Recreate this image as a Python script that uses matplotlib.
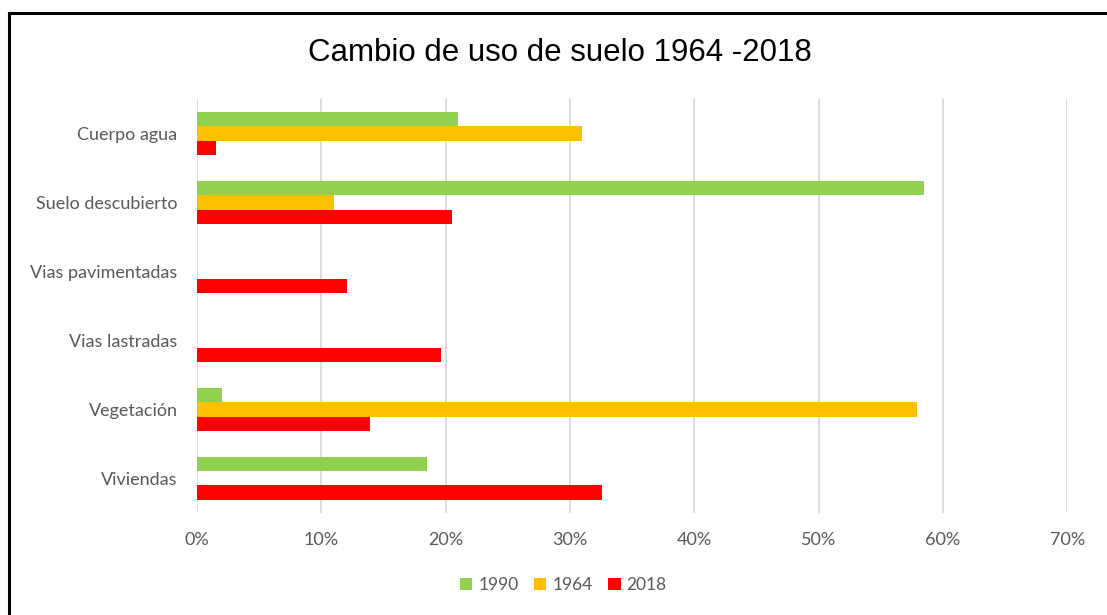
import matplotlib
matplotlib.use("Agg")
import matplotlib.pyplot as plt
import numpy as np
from matplotlib.lines import Line2D
from matplotlib.ticker import FuncFormatter, MultipleLocator

categories = ["Cuerpo agua", "Suelo descubierto", "Vias pavimentadas",
              "Vias lastradas", "Vegetación", "Viviendas"]
series_names = ["1990", "1964", "2018"]
v1990 = [21.0, 58.5, 0.0, 0.0, 2.0, 18.5]
v1964 = [31.0, 11.0, 0.0, 0.0, 57.9, 0.0]
v2018 = [1.5, 20.5, 12.1, 19.6, 13.9, 32.6]
colors = ["#92D050", "#FFC000", "#FF0000"]

fig = plt.figure(figsize=(11.07, 6.15), dpi=100)
ax = fig.add_axes([0.178, 0.166, 0.786, 0.673])

y = np.arange(len(categories))
h = 0.205
offsets = [-h, 0, h]
for vals, off, col, name in zip([v1990, v1964, v2018], offsets, colors, series_names):
    ax.barh(y + off, vals, height=h, color=col, label=name, zorder=3)

ax.set_ylim(len(categories) - 0.5, -0.5)
ax.set_xlim(0, 70)
ax.xaxis.set_major_locator(MultipleLocator(10))
ax.xaxis.set_major_formatter(FuncFormatter(lambda v, p: f"{int(round(v))}%"))
ax.set_yticks(y)
ax.set_yticklabels(categories)
ax.grid(axis="x", color="#D9D9D9", linewidth=1.3, zorder=0)
for s in ax.spines.values():
    s.set_visible(False)
ax.tick_params(axis="both", length=0, labelsize=13, colors="#595959")
ax.tick_params(axis="y", pad=14)
ax.tick_params(axis="x", pad=14)
for lab in ax.get_xticklabels() + ax.get_yticklabels():
    lab.set_fontfamily("Lato")

fig.text(0.506, 0.914, "Cambio de uso de suelo 1964 -2018", ha="center", va="center",
         fontsize=22.5, family="Liberation Sans", color="#000000")

handles, labels = ax.get_legend_handles_labels()
leg = fig.legend(handles, labels, loc="center", bbox_to_anchor=(0.509, 0.048), ncol=3,
                 frameon=False, handlelength=0.7, handleheight=0.7,
                 columnspacing=0.9, handletextpad=0.35, prop={"family": "Lato", "size": 12.5})
for t in leg.get_texts():
    t.set_color("#595959")

# frame lines (top and left)
fig.add_artist(Line2D([9/1107, 1], [1 - 13/615, 1 - 13/615], color="black", linewidth=2.2,
                      transform=fig.transFigure))
fig.add_artist(Line2D([9/1107, 9/1107], [0, 1 - 13/615], color="black", linewidth=2.2,
                      transform=fig.transFigure))

fig.savefig("out.png", dpi=100)
